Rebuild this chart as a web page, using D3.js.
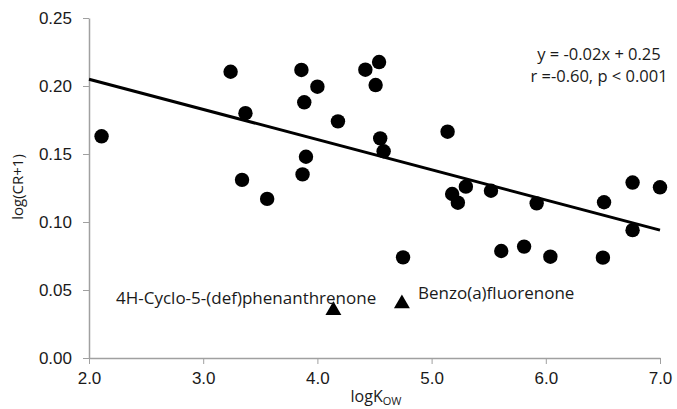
<!DOCTYPE html>
<html>
<head>
<meta charset="utf-8">
<script src="https://cdn.jsdelivr.net/npm/d3@7"></script>
<style>
  body { margin: 0; background: #fff; }
  svg { font-family: "Open Sans", sans-serif; }
  .axis path, .axis line { stroke: #a0a0a0; }
  .axis text { fill: #1a1a1a; font-size: 17px; }
</style>
</head>
<body>
<svg width="677" height="409"></svg>
<script>
// logKow vs log(CR+1), circles = compounds, triangles = the two outliers
var logKow = [2.11, 3.24, 3.37, 3.34, 3.56, 3.86, 4.00, 3.885, 4.18, 3.90, 3.87,
  4.42, 4.54, 4.51, 4.55, 4.58, 5.14, 5.30, 5.18, 5.23, 5.52, 5.92, 6.51,
  6.76, 7.00, 6.76, 5.61, 5.81, 6.04, 6.50, 4.75];
var logCR = [0.163, 0.2105, 0.180, 0.131, 0.117, 0.2118, 0.1995, 0.188, 0.174, 0.148, 0.135,
  0.212, 0.2176, 0.2007, 0.1615, 0.152, 0.1664, 0.126, 0.1206, 0.1142, 0.123, 0.1137, 0.1145,
  0.129, 0.1255, 0.094, 0.0787, 0.0819, 0.0745, 0.0738, 0.074];

var outlierNames = ["4H-Cyclo-5-(def)phenanthrenone", "Benzo(a)fluorenone"];
var outlierKow = [4.14, 4.74];
var outlierCR = [0.035, 0.040];

// fitted line
var slope = -0.0222, intercept = 0.2494;
var eqLines = ["y = -0.02x + 0.25", "r =-0.60, p < 0.001"];

var xTicks = [2, 3, 4, 5, 6, 7];
var yTicks = [0, 0.05, 0.10, 0.15, 0.20, 0.25];

var svg = d3.select("svg");

var x = d3.scaleLinear().domain([2, 7]).range([89, 660]);
var y = d3.scaleLinear().domain([0, 0.25]).range([358, 18]);

// axes
svg.append("g")
  .attr("class", "axis")
  .attr("transform", "translate(0," + y(0) + ")")
  .call(d3.axisBottom(x).tickValues(xTicks).tickFormat(d3.format(".1f")).tickSize(6).tickSizeOuter(0).tickPadding(8))
  .call(function (g) { g.select(".domain").attr("stroke-width", 1.5); });

svg.append("g")
  .attr("class", "axis")
  .attr("transform", "translate(" + x(2) + ",0)")
  .call(d3.axisLeft(y).tickValues(yTicks).tickFormat(d3.format(".2f")).tickSize(6).tickSizeOuter(0).tickPadding(11))
  .call(function (g) { g.select(".domain").attr("stroke-width", 1.5); });

// axis titles
svg.append("text")
  .attr("transform", "translate(23," + 187 + ") rotate(-90)")
  .attr("text-anchor", "middle")
  .attr("font-size", 15)
  .attr("fill", "#1a1a1a")
  .text("log(CR+1)");

var xl = svg.append("text")
  .attr("x", 376)
  .attr("y", 402)
  .attr("text-anchor", "middle")
  .attr("font-size", 16)
  .attr("fill", "#1a1a1a");
xl.append("tspan").text("logK");
xl.append("tspan").attr("font-size", 11).attr("dy", 3).text("OW");

// trend line
svg.append("line")
  .attr("x1", x(2)).attr("y1", y(slope * 2 + intercept))
  .attr("x2", x(7)).attr("y2", y(slope * 7 + intercept))
  .attr("stroke", "#000")
  .attr("stroke-width", 3);

// points
svg.append("g")
  .selectAll("circle")
  .data(logKow)
  .enter()
  .append("circle")
  .attr("cx", function (d) { return x(d); })
  .attr("cy", function (d, i) { return y(logCR[i]); })
  .attr("r", 7.2)
  .attr("fill", "#000");

svg.append("g")
  .selectAll("path")
  .data(outlierKow)
  .enter()
  .append("path")
  .attr("transform", function (d, i) { return "translate(" + x(d) + "," + y(outlierCR[i]) + ")"; })
  .attr("d", d3.symbol().type(d3.symbolTriangle).size(110))
  .attr("fill", "#000");

// outlier labels
svg.append("text")
  .attr("x", 116).attr("y", 304)
  .attr("font-size", 17).attr("fill", "#1a1a1a")
  .text(outlierNames[0]);
svg.append("text")
  .attr("x", 418).attr("y", 299)
  .attr("font-size", 17).attr("fill", "#1a1a1a")
  .text(outlierNames[1]);

// equation
svg.append("g")
  .selectAll("text")
  .data(eqLines)
  .enter()
  .append("text")
  .attr("x", 599)
  .attr("y", function (d, i) { return 60 + i * 22; })
  .attr("text-anchor", "middle")
  .attr("font-size", 16.5)
  .attr("fill", "#1a1a1a")
  .text(function (d) { return d; });
</script>
</body>
</html>
